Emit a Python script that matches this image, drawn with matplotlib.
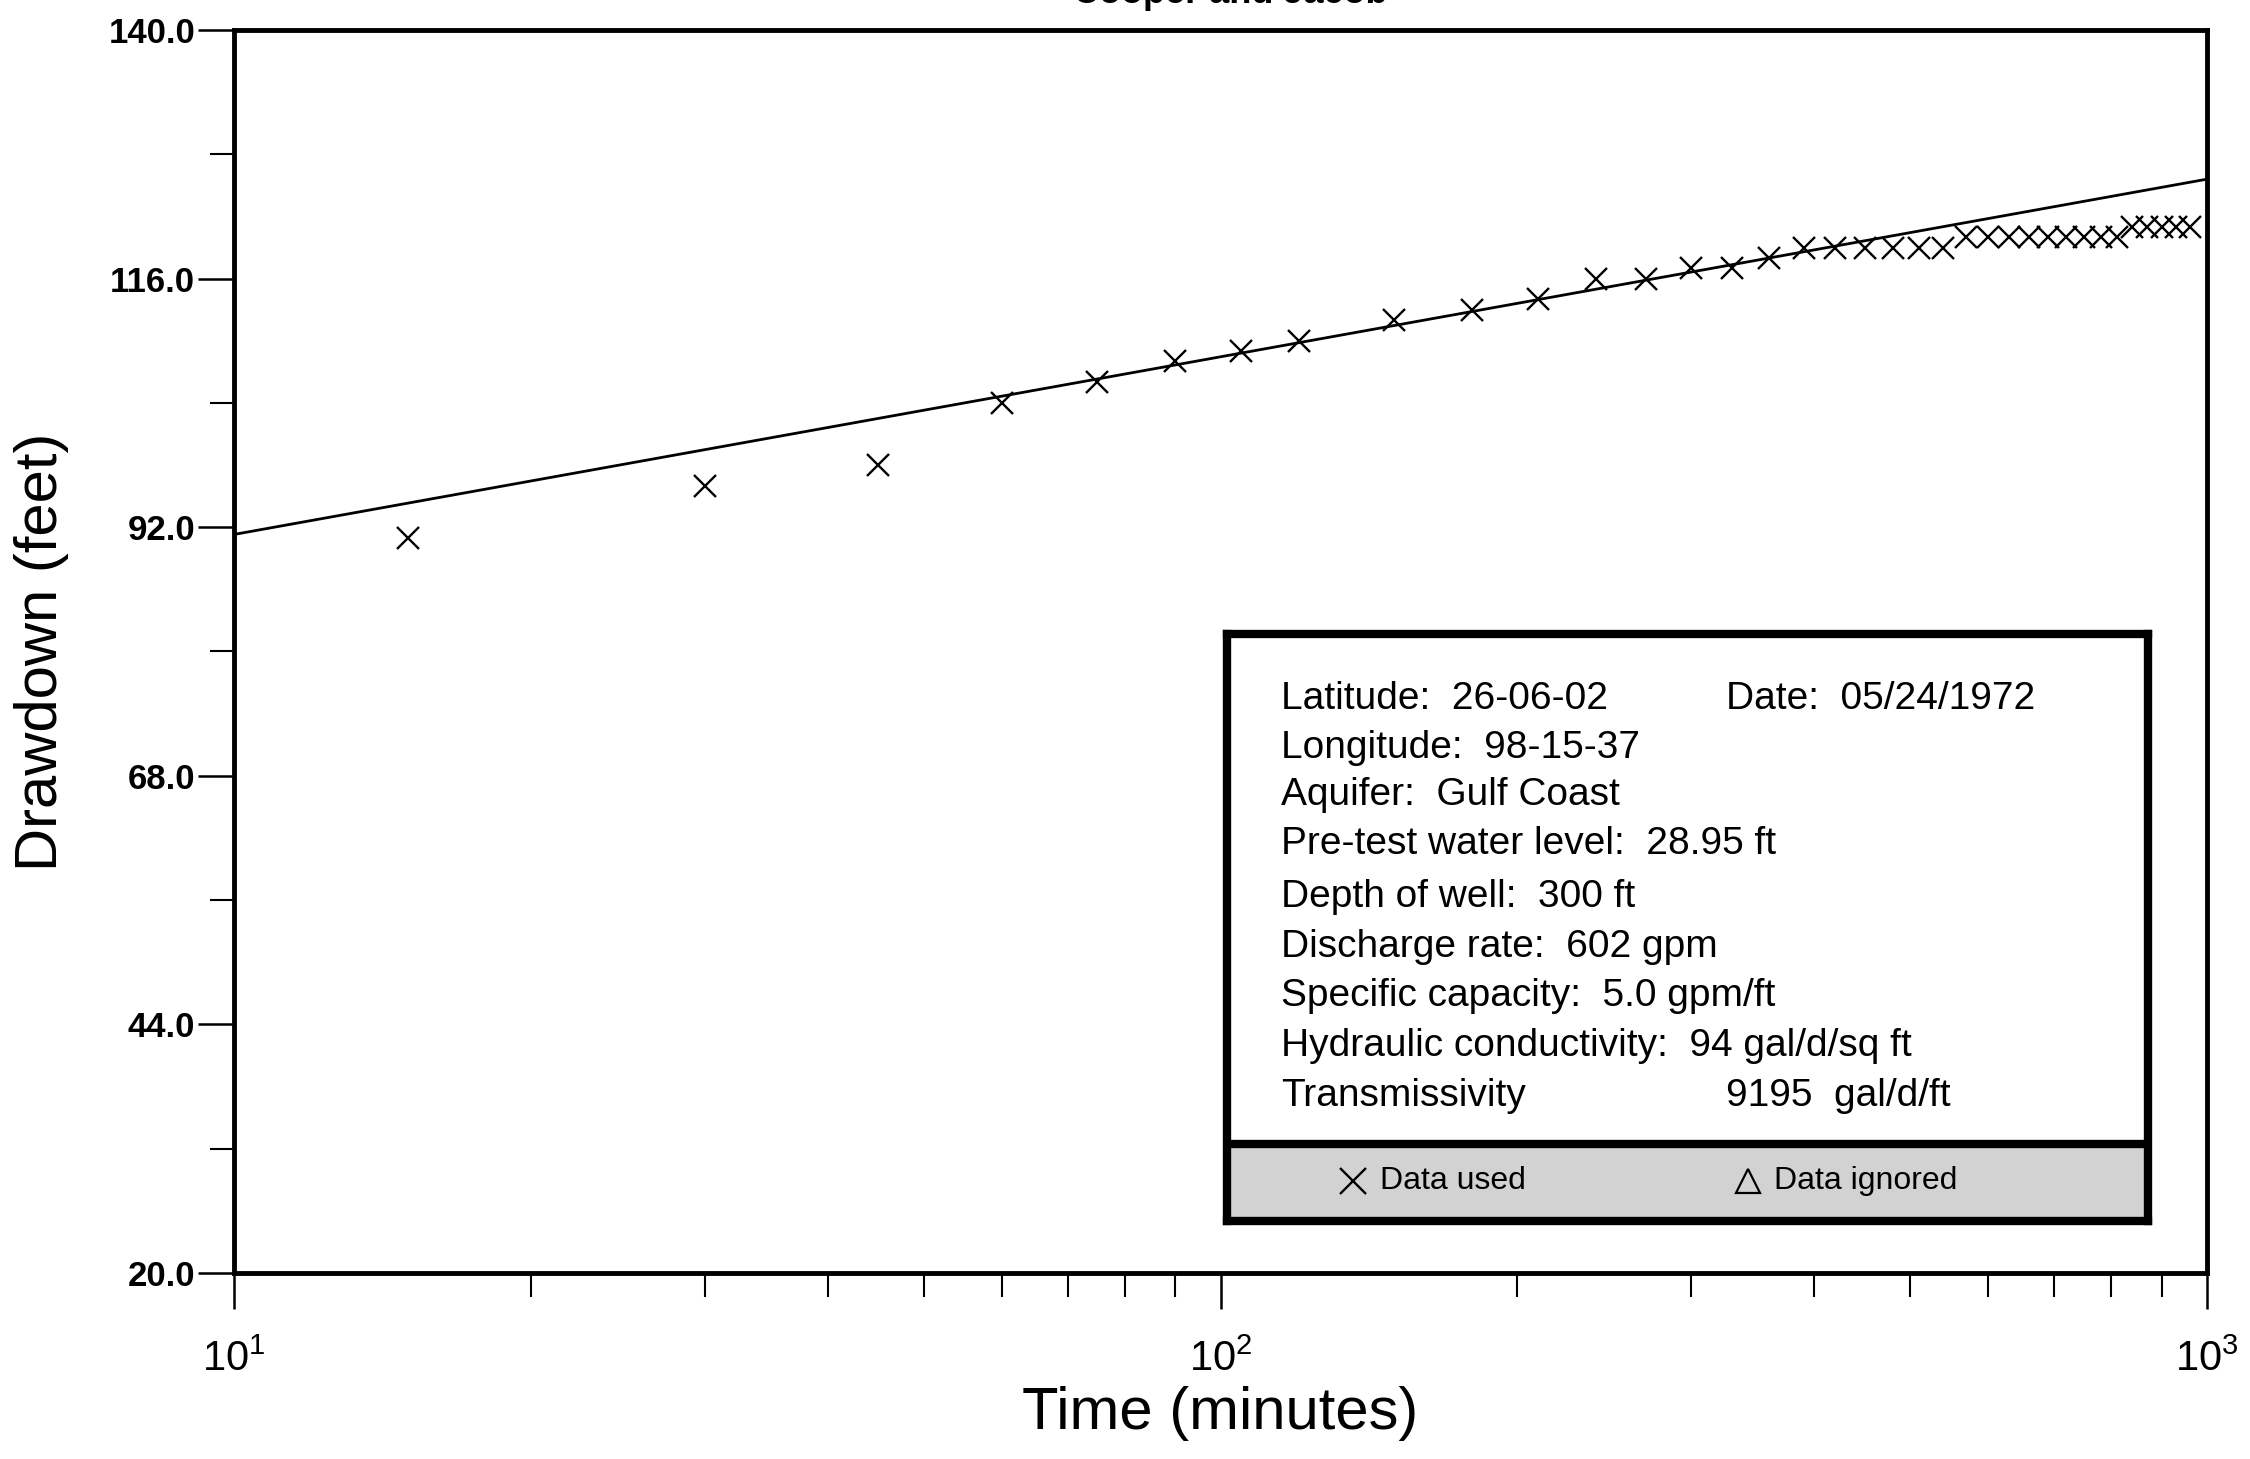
import numpy as np
import matplotlib
matplotlib.use('Agg')
import matplotlib.pyplot as plt
from matplotlib.ticker import FixedLocator, FixedFormatter, LogLocator, NullFormatter
from matplotlib.patches import Rectangle

NARROW = ['Liberation Sans Narrow', 'Liberation Sans', 'DejaVu Sans']
plt.rcParams['font.family'] = ['Liberation Sans', 'DejaVu Sans']
plt.rcParams['mathtext.fontset'] = 'custom'
plt.rcParams['mathtext.rm'] = 'Liberation Sans'

# pumping test data (minutes, feet)
time_min = [15, 30, 45, 60, 75, 90, 105, 120, 150, 180, 210, 240, 270, 300,
            330, 360, 390, 420, 450, 480, 510, 540, 570, 600, 630, 660, 690,
            720, 750, 780, 810, 840, 870, 900, 930, 960]
drawdown = [91.0, 96.0, 98.0, 104.0, 106.0, 108.0, 109.0, 110.0, 112.0, 113.0,
            114.0, 116.0, 116.0, 117.0, 117.0, 118.0, 119.0, 119.0, 119.0,
            119.0, 119.0, 119.0, 120.0, 120.0, 120.0, 120.0, 120.0, 120.0,
            120.0, 120.0, 120.0, 121.0, 121.0, 121.0, 121.0, 121.0]

# straight-line (Cooper-Jacob) fit
fit_time = [10, 1000]
fit_drawdown = [91.3, 125.6]

y_major = [20.0, 44.0, 68.0, 92.0, 116.0, 140.0]
y_minor = [32.0, 56.0, 80.0, 104.0, 128.0]
x_major = [10, 100, 1000]
x_labels = [r'$\mathregular{10^{1}}$', r'$\mathregular{10^{2}}$', r'$\mathregular{10^{3}}$']

info_left = ['Latitude:  26-06-02', 'Longitude:  98-15-37', 'Aquifer:  Gulf Coast',
             'Pre-test water level:  28.95 ft', 'Depth of well:  300 ft',
             'Discharge rate:  602 gpm', 'Specific capacity:  5.0 gpm/ft',
             'Hydraulic conductivity:  94 gal/d/sq ft', 'Transmissivity']
info_right = {0: 'Date:  05/24/1972', 8: '9195  gal/d/ft'}

W, H = 2250, 1459
fig = plt.figure(figsize=(22.5, 14.59), dpi=100)
ax = fig.add_axes([234 / W, 1 - 1273 / H, (2207 - 234) / W, (1273 - 30) / H])

ax.plot(fit_time, fit_drawdown, color='black', lw=2.0)
ax.plot(time_min, drawdown, linestyle='none', marker='x', ms=16, mew=1.7, color='black')

ax.set_xscale('log')
ax.set_xlim(10, 1000)
ax.set_ylim(20, 140)

ax.xaxis.set_major_locator(FixedLocator(x_major))
ax.xaxis.set_major_formatter(FixedFormatter(x_labels))
ax.xaxis.set_minor_locator(LogLocator(base=10, subs=np.arange(2, 10)))
ax.xaxis.set_minor_formatter(NullFormatter())
ax.yaxis.set_major_locator(FixedLocator(y_major))
ax.yaxis.set_minor_locator(FixedLocator(y_minor))
ax.yaxis.set_major_formatter(plt.FuncFormatter(lambda v, p: '%.1f' % v))

for s in ax.spines.values():
    s.set_linewidth(3.5)
ax.tick_params(axis='both', which='major', direction='out', length=26, width=1.8)
ax.tick_params(axis='both', which='minor', direction='out', length=17, width=1.5)
ax.tick_params(axis='y', which='major', labelsize=25, pad=2)
ax.tick_params(axis='x', which='major', labelsize=30, pad=22)
for lab in ax.get_yticklabels():
    lab.set_fontweight('bold')

ax.set_xlabel('Time (minutes)', family=NARROW, fontsize=43, labelpad=4)
ax.set_ylabel('Drawdown (feet)', family=NARROW, fontsize=43, labelpad=28)

fig.text(1230 / W, 1 - 3 / H, 'Cooper and Jacob', ha='center', va='baseline',
         fontsize=26, fontweight='bold')

# information box
box = fig.add_axes([1227 / W, 1 - 1221 / H, (2148 - 1227) / W, (1221 - 634) / H])
box.set_xlim(0, 1)
box.set_ylim(0, 1)
box.set_xticks([])
box.set_yticks([])
for s in box.spines.values():
    s.set_linewidth(6)
box.add_patch(Rectangle((0, 0), 1, 0.131, facecolor='#d2d2d2', edgecolor='none'))
box.axhline(0.131, color='black', lw=6)

row_y = [0.889, 0.806, 0.726, 0.642, 0.552, 0.467, 0.383, 0.298, 0.213]
for i, txt in enumerate(info_left):
    box.text(0.0586, row_y[i], txt, family=NARROW, fontsize=28, va='center', ha='left')
    if i in info_right:
        box.text(0.542, row_y[i], info_right[i], family=NARROW, fontsize=28,
                 va='center', ha='left')

box.plot([0.137], [0.068], marker='x', ms=19, mew=1.7, color='black', linestyle='none')
box.text(0.166, 0.068, 'Data used', family=NARROW, fontsize=23, va='center', ha='left')
box.plot([0.566], [0.068], marker='^', ms=17, mew=1.6, mfc='none', mec='black',
         linestyle='none')
box.text(0.594, 0.068, 'Data ignored', family=NARROW, fontsize=23, va='center', ha='left')

fig.savefig('out.png', dpi=100)
